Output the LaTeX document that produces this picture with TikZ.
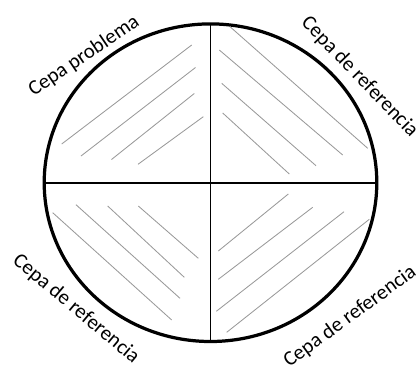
\documentclass[tikz,border=0pt]{standalone}
\usepackage{fontspec}
\setmainfont{Carlito}
\usepackage{tikz}
\usetikzlibrary{positioning}

\tikzset{
	hatch/.style={gray!80,line width=0.6pt},
	cepa/.style={font=\fontsize{14.8}{16}\selectfont,inner sep=0pt}
}

\begin{document}
\begin{tikzpicture}[x=0.025cm,y=-0.025cm]
		
		\useasboundingbox (0,0) rectangle (420,371);
		
		% Circle and cross
		\coordinate (c) at (210.5,182.7);
		\draw[line width=1.2pt] (44,182.7)--(376.8,182.7);
		\draw[line width=1.2pt] (210.5,24)--(210.5,341.5);
		\draw[line width=2.3pt] (c) ellipse [x radius=166.3,y radius=158.8];
		
		% Hatching, top left
		\draw[hatch] (61.7,144)--(191.7,45);
		\draw[hatch] (81,156)--(195.5,67.5);
		\draw[hatch] (111.5,159.5)--(194.3,93.5);
		\draw[hatch] (138,164.3)--(203.3,116.7);
		
		% Hatching, top right
		\draw[hatch] (230,26.7)--(367.7,148.3);
		\draw[hatch] (219.3,50)--(342.7,155);
		\draw[hatch] (221.7,83.3)--(316,165.7);
		\draw[hatch] (222.7,113)--(289.3,174);
		
		% Hatching, bottom left
		\draw[hatch] (52.7,212.7)--(171.7,320);
		\draw[hatch] (76,204.7)--(180,298.3);
		\draw[hatch] (107.7,206)--(184.3,277.3);
		\draw[hatch] (138.3,206)--(198.3,258.3);
		
		% Hatching, bottom right
		\draw[hatch] (218.3,251)--(288.3,194);
		\draw[hatch] (218.3,279.3)--(312.7,207.3);
		\draw[hatch] (216.3,311.3)--(344,211.7);
		\draw[hatch] (226.7,332.3)--(369.3,219.3);
		
		% Labels
		\node[cepa,rotate=34] (problema) at (84,56) {Cepa problema};
		\node[cepa,rotate=-46] (refA) at (359.5,77) {Cepa de referencia};
		\node[cepa,rotate=-40] (refB) at (76,309) {Cepa de referencia};
		\node[cepa,rotate=36] (refC) at (350,316.7) {Cepa de referencia};
		
	\end{tikzpicture}
\end{document}
